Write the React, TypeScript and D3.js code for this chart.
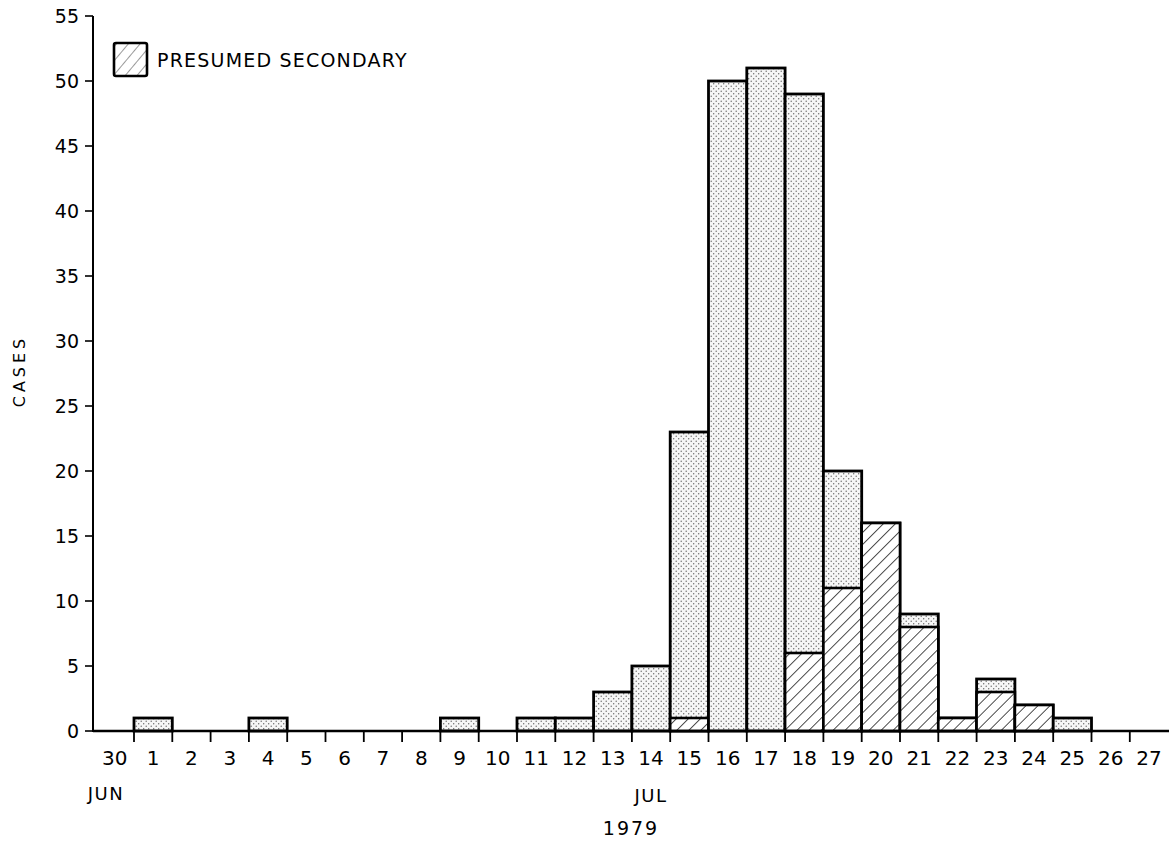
import React from 'react';
import * as d3 from 'd3';

// dias del brote (30 jun .. 27 jul 1979)
const DAYS = ['30', '1', '2', '3', '4', '5', '6', '7', '8', '9', '10', '11', '12', '13', '14',
  '15', '16', '17', '18', '19', '20', '21', '22', '23', '24', '25', '26', '27'];
// total de casos por dia
const TOTAL = [0, 1, 0, 0, 1, 0, 0, 0, 0, 1, 0, 1, 1, 3, 5, 23, 50, 51, 49, 20, 16, 9, 1, 4, 2, 1, 0, 0];
// casos presumiblemente secundarios (rayados)
const SECONDARY = [0, 0, 0, 0, 0, 0, 0, 0, 0, 0, 0, 0, 0, 0, 0, 1, 0, 0, 6, 11, 16, 8, 1, 3, 2, 0, 0, 0];
const Y_TICKS = [0, 5, 10, 15, 20, 25, 30, 35, 40, 45, 50, 55];

const W = 1169;
const H = 841;
const FONT = '"DejaVu Sans", sans-serif';

const App = () => {
  const step = 38.3;
  const x0 = 95.7;
  const xScale = d3.scaleBand<string>()
    .domain([...DAYS, '28'])
    .range([x0, x0 + step * (DAYS.length + 1)])
    .padding(0);
  const yScale = d3.scaleLinear().domain([0, 55]).range([731, 16]);
  const bw = xScale.bandwidth();
  const base = yScale(0);

  const bars = DAYS.map((d, i) => {
    const bx = xScale(d) as number;
    const tot = TOTAL[i];
    const sec = SECONDARY[i];
    if (tot === 0) return null;
    return (
      <g key={d}>
        <rect x={bx} y={yScale(tot)} width={bw} height={base - yScale(tot)}
          fill="url(#dots)" stroke="#000" strokeWidth={2.8} />
        {sec > 0 && (
          <rect x={bx} y={yScale(sec)} width={bw} height={base - yScale(sec)}
            fill="url(#hatch)" stroke="#000" strokeWidth={2.6} />
        )}
      </g>
    );
  });

  // limites entre bandas para las marcas del eje x
  const boundaries = DAYS.slice(1).map(d => xScale(d) as number);

  return (
    <svg width={W} height={H} style={{ position: 'absolute', left: 0, top: 0, background: '#fff' }}>
      <defs>
        <pattern id="dots" width={5} height={5} patternUnits="userSpaceOnUse">
          <rect width={5} height={5} fill="#f6f6f6" />
          <circle cx={1.2} cy={1.2} r={0.7} fill="#666" />
          <circle cx={3.7} cy={3.7} r={0.7} fill="#666" />
        </pattern>
        <pattern id="hatch" width={8.5} height={8.5} patternUnits="userSpaceOnUse"
          patternTransform="rotate(45)">
          <rect width={8.5} height={8.5} fill="#fff" />
          <line x1={0} y1={0} x2={0} y2={8.5} stroke="#111" strokeWidth={1.5} />
        </pattern>
        <pattern id="hatchLight" width={9} height={9} patternUnits="userSpaceOnUse"
          patternTransform="rotate(40)">
          <rect width={9} height={9} fill="#fff" />
          <line x1={0} y1={0} x2={0} y2={9} stroke="#555" strokeWidth={1.2} />
        </pattern>
      </defs>

      {/* barras */}
      {bars}

      {/* eje x */}
      <line x1={93} x2={W} y1={base} y2={base} stroke="#000" strokeWidth={2.6} />
      {boundaries.map((bx, i) => (
        <line key={i} x1={bx} x2={bx} y1={base} y2={base + 11} stroke="#000" strokeWidth={1.8} />
      ))}
      {DAYS.map(d => (
        <text key={d} x={(xScale(d) as number) + bw / 2} y={758} textAnchor="middle"
          dominantBaseline="central" fontFamily={FONT} fontSize={20}>{d}</text>
      ))}
      <text x={106} y={793} textAnchor="middle" dominantBaseline="central"
        fontFamily={FONT} fontSize={18} letterSpacing={1.5}>JUN</text>
      <text x={651} y={795} textAnchor="middle" dominantBaseline="central"
        fontFamily={FONT} fontSize={18} letterSpacing={1.5}>JUL</text>
      <text x={631} y={828} textAnchor="middle" dominantBaseline="central"
        fontFamily={FONT} fontSize={19} letterSpacing={2}>1979</text>

      {/* eje y */}
      <line x1={93} x2={93} y1={base + 1} y2={yScale(55)} stroke="#000" strokeWidth={2} />
      {Y_TICKS.map(t => (
        <g key={t}>
          <line x1={85} x2={93} y1={yScale(t)} y2={yScale(t)} stroke="#000" strokeWidth={1.6} />
          <text x={79} y={yScale(t)} textAnchor="end" dominantBaseline="central"
            fontFamily={FONT} fontSize={19}>{t}</text>
        </g>
      ))}
      <text transform="translate(19,371) rotate(-90)" textAnchor="middle" dominantBaseline="central"
        fontFamily={FONT} fontSize={16} letterSpacing={4}>CASES</text>

      {/* leyenda */}
      <rect x={114} y={43} width={33} height={33} rx={2} fill="url(#hatchLight)"
        stroke="#000" strokeWidth={2.6} />
      <text x={157} y={60} dominantBaseline="central" fontFamily={FONT} fontSize={19}
        letterSpacing={1.2}>PRESUMED SECONDARY</text>
    </svg>
  );
};

export default App;
